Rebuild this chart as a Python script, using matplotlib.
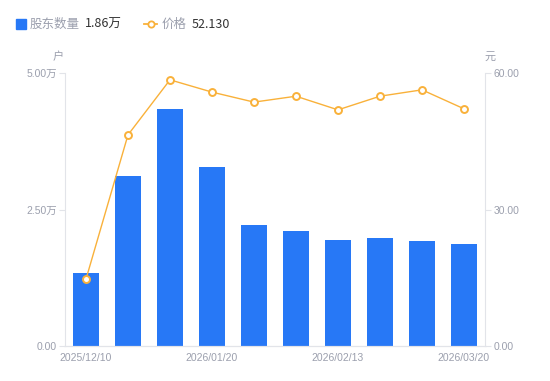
import matplotlib.pyplot as plt
from matplotlib.lines import Line2D

plt.rcParams['font.family'] = ['Noto Sans CJK SC', 'DejaVu Sans']

# data
dates = ['2025/12/10', '', '', '2026/01/20', '', '', '2026/02/13', '', '', '2026/03/20']
holders = [1.34, 3.11, 4.34, 3.28, 2.22, 2.11, 1.95, 1.98, 1.92, 1.86]  # 万户
price = [14.7, 46.4, 58.5, 55.8, 53.6, 54.9, 51.9, 54.9, 56.3, 52.13]  # 元

blue = '#2778F6'
orange = '#F9B13A'
gray = '#9B9FAD'
axis_gray = '#E2E4E9'
tick_font = ['Liberation Sans', 'Noto Sans CJK SC']

fig = plt.figure(figsize=(5.5, 3.81), dpi=100)
ax = fig.add_axes([65 / 550, 35 / 381, 420 / 550, 273 / 381])
ax2 = ax.twinx()

x = list(range(len(holders)))
ax.bar(x, holders, width=0.6, color=blue, zorder=2)
ax2.plot(x, price, color=orange, lw=1, marker='o', ms=5,
         mfc='white', mec=orange, mew=1.4, zorder=3)

ax.set_xlim(-0.5, len(x) - 0.5)
ax.set_ylim(0, 5)
ax2.set_ylim(0, 60)

ax.set_yticks([0, 2.5, 5])
ax.set_yticklabels(['0.00', '2.50万', '5.00万'], family=tick_font)
ax2.set_yticks([0, 30, 60])
ax2.set_yticklabels(['0.00', '30.00', '60.00'], family=tick_font)
ax.set_xticks(x)
ax.set_xticklabels(dates, family=tick_font)

for a in (ax, ax2):
    for s in a.spines.values():
        s.set_color(axis_gray)
    a.spines['top'].set_visible(False)
    a.tick_params(colors=axis_gray, labelcolor=gray, labelsize=7.5, length=4, pad=2)
ax.tick_params(axis='x', length=0, pad=5)
ax.spines['right'].set_visible(False)
ax2.spines['left'].set_visible(False)

# units
fig.text(58 / 550, 1 - 57 / 381, '户', color=gray, fontsize=8, ha='center', va='center')
fig.text(490 / 550, 1 - 57 / 381, '元', color=gray, fontsize=8, ha='center', va='center')

# legend row
ly = 1 - 24 / 381
fig.add_artist(Line2D([21 / 550], [ly], marker='s', ms=7, color=blue, transform=fig.transFigure))
fig.text(30 / 550, ly, '股东数量', color=gray, fontsize=9, va='center')
fig.text(85 / 550, ly, '1.86万', color='#333333', fontsize=9, va='center')
fig.add_artist(Line2D([144 / 550, 157 / 550], [ly, ly], color=orange, lw=1.3,
                      transform=fig.transFigure))
fig.add_artist(Line2D([150.5 / 550], [ly], marker='o', ms=4.5, mfc='white', mec=orange,
                      mew=1.3, transform=fig.transFigure))
fig.text(162 / 550, ly, '价格', color=gray, fontsize=9, va='center')
fig.text(192 / 550, ly, '52.130', color='#333333', fontsize=9, va='center')

fig.savefig('out.png', dpi=100)
